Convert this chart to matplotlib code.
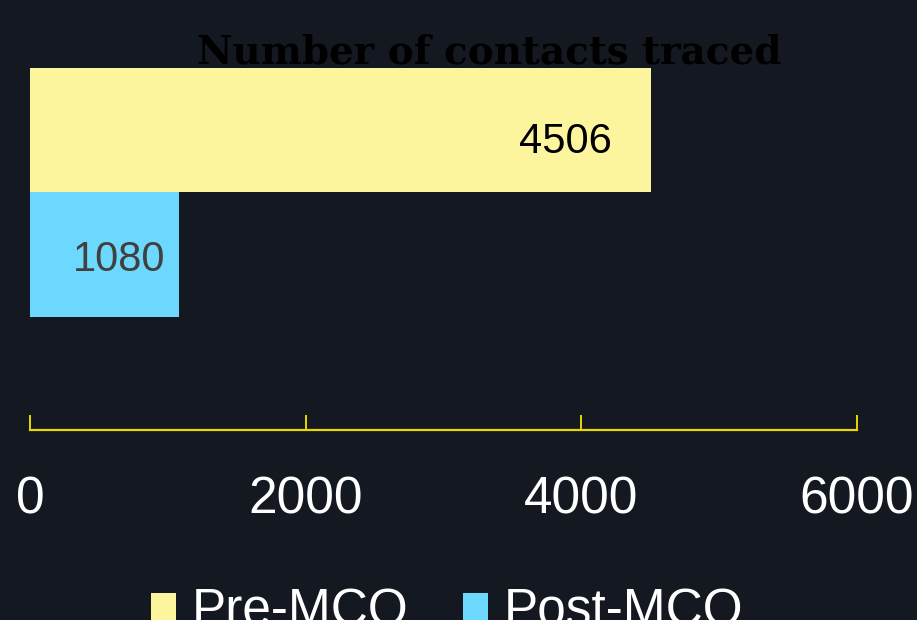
import matplotlib.pyplot as plt
from matplotlib.patches import Patch

categories = ["Pre-MCO", "Post-MCO"]
values = [4506, 1080]
bar_colors = ["#fdf59d", "#6dd8fe"]
label_colors = ["#000000", "#404040"]
label_offsets = [(-39, -12), (-13, -5)]  # px from bar end
xticks = [0, 2000, 4000, 6000]

BG = "#131821"
AXIS = "#e8d800"

fig = plt.figure(figsize=(9.17, 6.2), dpi=100)
fig.patch.set_facecolor(BG)
ax = fig.add_axes([30 / 917, 1 - 430 / 620, 827 / 917, (430 - 68) / 620])
ax.set_facecolor(BG)

ypos = list(range(len(categories)))
ax.barh(ypos, values, height=1.0, color=bar_colors)

for y, v, c, (dx, dy) in zip(ypos, values, label_colors, label_offsets):
    ax.annotate(str(v), xy=(v, y), xytext=(dx * 0.72, dy * 0.72), textcoords="offset points",
                ha="right", va="center", fontsize=30, color=c, family="Liberation Sans")

ax.set_xlim(0, 6000)
ax.set_ylim(2.41, -0.5)
ax.set_xticks(xticks)
ax.set_xticklabels([str(t) for t in xticks], fontsize=37, color="white", family="Liberation Sans")
ax.set_yticks([])
for s in ["top", "left", "right"]:
    ax.spines[s].set_visible(False)
ax.spines["bottom"].set_color(AXIS)
ax.spines["bottom"].set_linewidth(1.6)
ax.tick_params(axis="x", direction="in", length=11, width=1.4, color=AXIS, pad=33)

fig.text(489 / 917, 1 - 52 / 620, "Number of contacts traced", ha="center", va="center",
         fontsize=28, color="black", family="DejaVu Serif", weight="bold")

handles = [Patch(facecolor=c, edgecolor="none") for c in bar_colors]
leg = fig.legend(handles, categories, loc="upper center", bbox_to_anchor=(447 / 917, 1 - 562 / 620),
                 ncol=2, frameon=False, handlelength=0.5, handleheight=0.5,
                 handletextpad=0.3, columnspacing=1.05, borderpad=0,
                 prop={"family": "Liberation Sans", "size": 37})
for t in leg.get_texts():
    t.set_color("white")

fig.savefig("out.png", dpi=100, facecolor=BG)
